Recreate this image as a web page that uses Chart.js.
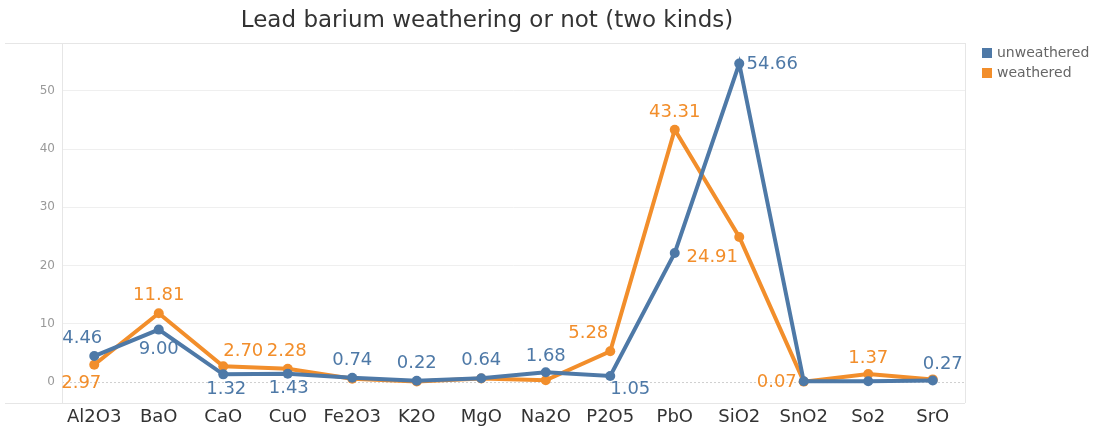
<!DOCTYPE html>
<html>
<head>
<meta charset="utf-8">
<script src="https://cdn.jsdelivr.net/npm/chart.js@4"></script>
<style>
  body { margin: 0; background: #fff; }
</style>
</head>
<body>
<canvas id="chart" width="1094" height="430"></canvas>
<script>
// data
const categories = ["Al2O3", "BaO", "CaO", "CuO", "Fe2O3", "K2O", "MgO", "Na2O", "P2O5", "PbO", "SiO2", "SnO2", "So2", "SrO"];
const unweathered = [4.46, 9.00, 1.32, 1.43, 0.74, 0.22, 0.64, 1.68, 1.05, 22.15, 54.66, 0.12, 0.12, 0.27];
const weathered = [2.97, 11.81, 2.70, 2.28, 0.55, 0.10, 0.60, 0.30, 5.28, 43.31, 24.91, 0.07, 1.37, 0.45];
const yTicks = [0, 10, 20, 30, 40, 50];

// which points carry a value label, and where it sits (dx, dy from the point)
const unweatheredLabelPos = [[-12, -18], [0, 20], [3, 15], [1, 15], [0, -17], [0, -17], [0, -18], [0, -16], [20, 13], null, [33, 1], null, null, [10, -16]];
const weatheredLabelPos = [[-13, 19], [0, -18], [20, -15], [-1, -17], null, null, null, null, [-22, -18], [0, -17], [-27, 20], [-27, 1], [0, -16], null];

const BLUE = "#4e79a7";
const ORANGE = "#f28e2b";
const FONT = "'DejaVu Sans', sans-serif";

// frame, title, legend and the dotted zero line
const decorations = {
  id: "decorations",
  beforeDatasetsDraw(chart) {
    const { ctx, chartArea } = chart;
    const y0 = chart.scales.y.getPixelForValue(0);
    ctx.save();
    ctx.strokeStyle = "#cfcfcf";
    ctx.lineWidth = 1;
    ctx.setLineDash([2, 2]);
    ctx.beginPath();
    ctx.moveTo(chartArea.left, y0 + 0.5);
    ctx.lineTo(chartArea.right, y0 + 0.5);
    ctx.stroke();
    ctx.setLineDash([]);
    ctx.strokeStyle = "#e6e6e6";
    ctx.beginPath();
    ctx.moveTo(5, chartArea.top + 0.5);
    ctx.lineTo(chartArea.right, chartArea.top + 0.5);
    ctx.moveTo(5, chartArea.bottom + 0.5);
    ctx.lineTo(chartArea.right, chartArea.bottom + 0.5);
    ctx.moveTo(chartArea.left + 0.5, chartArea.top);
    ctx.lineTo(chartArea.left + 0.5, chartArea.bottom);
    ctx.moveTo(chartArea.right + 0.5, chartArea.top);
    ctx.lineTo(chartArea.right + 0.5, chartArea.bottom);
    ctx.stroke();
    ctx.restore();
  },
  afterDraw(chart) {
    const { ctx } = chart;
    ctx.save();
    ctx.fillStyle = "#333";
    ctx.font = "23px " + FONT;
    ctx.textAlign = "center";
    ctx.textBaseline = "middle";
    ctx.fillText("Lead barium weathering or not (two kinds)", 487, 21);

    ctx.font = "14px " + FONT;
    ctx.textAlign = "left";
    [["unweathered", BLUE, 53], ["weathered", ORANGE, 73]].forEach(([name, color, y]) => {
      ctx.fillStyle = color;
      ctx.fillRect(982, y - 5, 10, 10);
      ctx.fillStyle = "#666";
      ctx.fillText(name, 997, y);
    });
    ctx.restore();
  }
};

const valueLabels = {
  id: "valueLabels",
  afterDatasetsDraw(chart) {
    const { ctx } = chart;
    const sets = [[unweathered, unweatheredLabelPos, BLUE], [weathered, weatheredLabelPos, ORANGE]];
    ctx.save();
    ctx.font = "18px " + FONT;
    ctx.textAlign = "center";
    ctx.textBaseline = "middle";
    sets.forEach(([values, pos, color], di) => {
      const meta = chart.getDatasetMeta(di);
      values.forEach((v, i) => {
        if (!pos[i]) return;
        const pt = meta.data[i];
        ctx.fillStyle = color;
        ctx.fillText(v.toFixed(2), pt.x + pos[i][0], pt.y + pos[i][1]);
      });
    });
    ctx.restore();
  }
};

new Chart(document.getElementById("chart"), {
  type: "line",
  data: {
    labels: categories,
    datasets: [
      {
        label: "unweathered",
        data: unweathered,
        borderColor: BLUE,
        backgroundColor: BLUE,
        borderWidth: 4,
        pointRadius: 5,
        pointBorderWidth: 0,
        tension: 0
      },
      {
        label: "weathered",
        data: weathered,
        borderColor: ORANGE,
        backgroundColor: ORANGE,
        borderWidth: 4,
        pointRadius: 5,
        pointBorderWidth: 0,
        tension: 0
      }
    ]
  },
  options: {
    responsive: false,
    animation: false,
    layout: { padding: { top: 43, right: 129, left: 0, bottom: 0 } },
    plugins: { legend: { display: false }, tooltip: { enabled: false } },
    scales: {
      x: {
        offset: true,
        grid: { display: false, drawTicks: false },
        border: { display: false },
        ticks: { color: "#333", font: { family: FONT, size: 18 }, padding: 4, maxRotation: 0, autoSkip: false },
        afterFit(scale) { scale.height = 27; }
      },
      y: {
        min: -3.6,
        max: 58.2,
        grid: {
          drawTicks: false,
          color: c => (c.tick && c.tick.value === 0 ? "transparent" : "#efefef")
        },
        border: { display: false },
        ticks: { color: "#999", font: { family: FONT, size: 12 }, padding: 7 },
        afterBuildTicks(scale) { scale.ticks = yTicks.map(v => ({ value: v })); },
        afterFit(scale) { scale.width = 62; }
      }
    }
  },
  plugins: [decorations, valueLabels]
});
</script>
</body>
</html>
